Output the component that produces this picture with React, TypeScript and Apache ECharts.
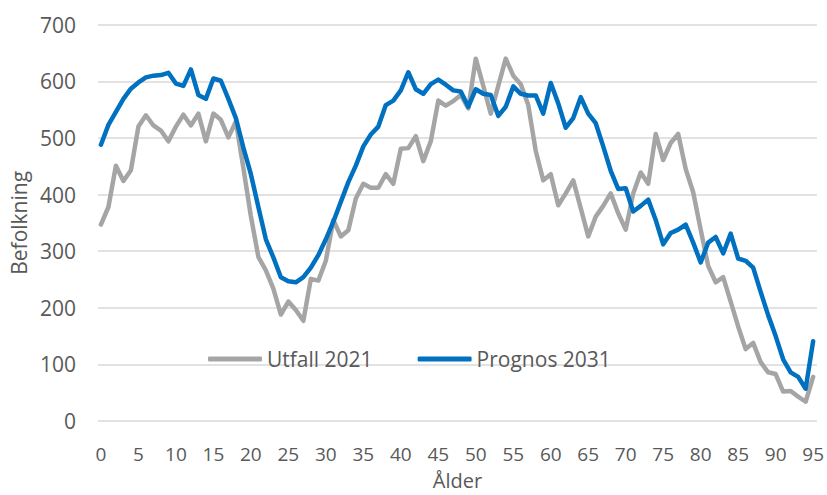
import React, { useEffect, useRef } from "react";
import * as echarts from "echarts";

const ages: number[] = Array.from({ length: 96 }, (_, i) => i);

const utfall2021: number[] = [
  347, 378, 451, 424, 443, 520, 540, 522, 513, 494,
  520, 541, 522, 543, 494, 543, 532, 501, 529, 447,
  362, 290, 266, 234, 188, 211, 196, 177, 251, 248,
  283, 355, 326, 337, 393, 419, 412, 412, 436, 419,
  481, 482, 503, 459, 494, 566, 557, 565, 576, 552,
  640, 592, 543, 592, 640, 610, 595, 558, 477, 425,
  436, 381, 402, 425, 376, 326, 361, 380, 402, 367,
  338, 402, 439, 419, 507, 461, 491, 507, 445, 404,
  338, 274, 245, 254, 211, 167, 127, 138, 104, 86,
  83, 52, 53, 43, 34, 78,
];

const prognos2031: number[] = [
  488, 523, 546, 569, 587, 598, 607, 610, 611, 615,
  596, 592, 621, 576, 569, 605, 601, 569, 535, 483,
  436, 378, 321, 289, 254, 247, 245, 254, 271, 293,
  321, 352, 387, 422, 451, 485, 506, 520, 558, 566,
  584, 616, 586, 578, 595, 603, 594, 584, 582, 555,
  586, 578, 576, 539, 555, 591, 578, 575, 575, 543,
  597, 561, 518, 535, 572, 543, 526, 485, 442, 410,
  411, 370, 380, 391, 355, 312, 332, 338, 347, 315,
  280, 315, 325, 296, 331, 287, 283, 271, 228, 187,
  150, 109, 86, 78, 57, 141,
];

const xTickLabels: number[] = [0, 5, 10, 15, 20, 25, 30, 35, 40, 45, 50, 55, 60, 65, 70, 75, 80, 85, 90, 95];
const seriesNames: string[] = ["Utfall 2021", "Prognos 2031"];

const FONT = "'Open Sans', 'Noto Sans', sans-serif";
const TEXT = "#595959";

export default function App() {
  const ref = useRef<HTMLDivElement | null>(null);

  useEffect(() => {
    if (!ref.current) return;
    const chart = echarts.init(ref.current, undefined, { renderer: "svg" });
    const toPairs = (vals: number[]) => ages.map((a, i) => [a, vals[i]]);
    chart.setOption({
      animation: false,
      backgroundColor: "#ffffff",
      textStyle: { fontFamily: FONT },
      grid: { left: 97, right: 9, top: 24.7, bottom: 67, containLabel: false },
      legend: {
        data: seriesNames.map((n) => ({ name: n, icon: "roundRect" })),
        left: 203,
        top: 343.5,
        itemWidth: 54,
        itemHeight: 5,
        itemGap: 45,
        textStyle: { color: TEXT, fontSize: 21, fontFamily: FONT },
      },
      xAxis: {
        type: "value",
        min: -0.4,
        max: 95.5,
        name: "Ålder",
        nameLocation: "middle",
        nameGap: 49,
        nameTextStyle: { color: TEXT, fontSize: 20, fontFamily: FONT },
        axisLine: { show: false },
        axisTick: { show: false },
        splitLine: { show: false },
        axisLabel: {
          customValues: xTickLabels,
          color: TEXT,
          fontSize: 19,
          fontFamily: FONT,
          margin: 23,
          showMinLabel: true,
          showMaxLabel: true,
        },
      },
      yAxis: {
        type: "value",
        min: 0,
        max: 700,
        interval: 100,
        name: "Befolkning",
        nameLocation: "middle",
        nameGap: 64,
        nameTextStyle: { color: TEXT, fontSize: 21, fontFamily: FONT },
        axisLine: { show: false },
        axisTick: { show: false },
        axisLabel: { color: TEXT, fontSize: 21, fontFamily: FONT, margin: 22 },
        splitLine: { lineStyle: { color: "#d9d9d9", width: 1.5 } },
      },
      series: [
        {
          name: seriesNames[0],
          type: "line",
          data: toPairs(utfall2021),
          showSymbol: false,
          symbol: "none",
          color: "#a5a5a5",
          itemStyle: { color: "#a5a5a5" },
          lineStyle: { color: "#a5a5a5", width: 4.5, cap: "round", join: "round" },
        },
        {
          name: seriesNames[1],
          type: "line",
          data: toPairs(prognos2031),
          showSymbol: false,
          symbol: "none",
          color: "#0070c0",
          itemStyle: { color: "#0070c0" },
          lineStyle: { color: "#0070c0", width: 4.5, cap: "round", join: "round" },
        },
      ],
    });
    return () => chart.dispose();
  }, []);

  return (
    <div
      ref={ref}
      style={{ position: "fixed", left: 0, top: 0, width: 827, height: 495 }}
    />
  );
}
